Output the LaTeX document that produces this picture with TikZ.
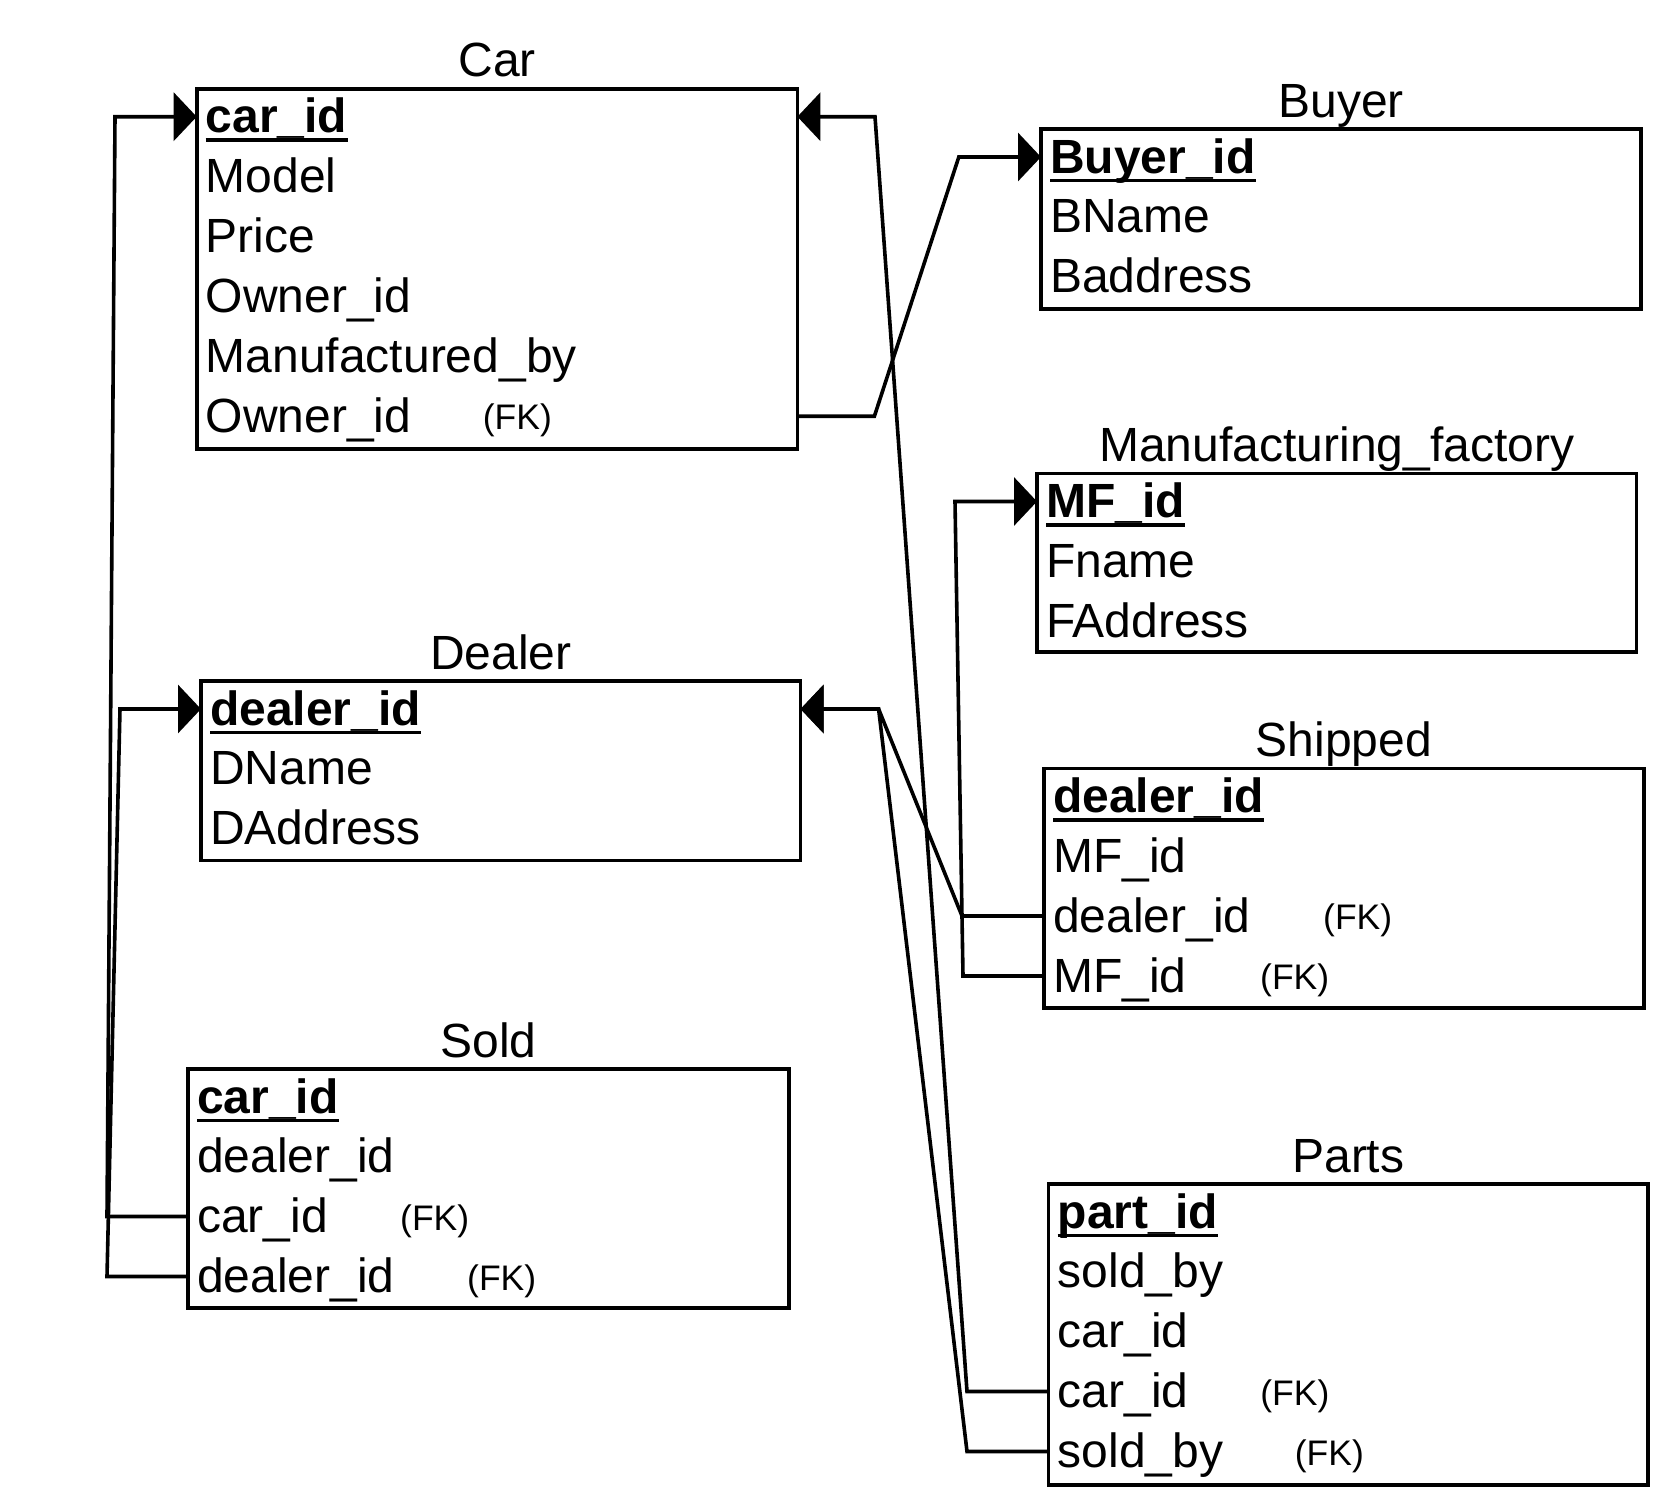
\documentclass[tikz,border=0pt]{standalone}
\usepackage{fontspec}
\setmainfont{Liberation Sans}
\usetikzlibrary{arrows.meta}
\begin{document}
\begin{tikzpicture}[x=1pt,y=-1pt,
  tbox/.style={draw, line width=3.6pt, inner sep=0pt, outer sep=0pt, anchor=north west},
  ttitle/.style={font=\fontsize{48}{48}\selectfont, inner sep=0pt, anchor=base},
  field/.style={font=\fontsize{48}{48}\selectfont, inner sep=0pt, text height=32pt, text depth=0pt, anchor=west},
  pkey/.style={field, font=\fontsize{48}{48}\selectfont\bfseries},
  fk/.style={field, font=\fontsize{35.5}{36}\selectfont, yshift=2.5pt},
  ul/.style={line width=3.5pt},
  link/.style={line width=3.6pt, line join=miter},
  head/.style={-{Triangle[length=23pt,width=48pt]}}
]
\useasboundingbox[fill=white] (0,0) rectangle (1676,1512);

% Car
\begin{scope}[shift={(196.7,88.7)}]
  \node[tbox, minimum width=600.7pt, minimum height=360.2pt] (car) at (0,0) {};
  \node[ttitle] (car-title) at (300.35,-12) {Car};
  \node[pkey]  (car-pk) at (9,28) {car\_id};
  \node[field] (car-r1) at (9,87.5) {Model};
  \node[field] (car-r2) at (9,147.5) {Price};
  \node[field] (car-r3) at (9,207.5) {Owner\_id};
  \node[field] (car-r4) at (9,267.5) {Manufactured\_by};
  \node[field] (car-r5) at (9,327.5) {Owner\_id};
  \node[fk]    (car-fk5) at (286,327.5) {(FK)};
\end{scope}

% Buyer
\begin{scope}[shift={(1041,129)}]
  \node[tbox, minimum width=600pt, minimum height=180pt] (buyer) at (0,0) {};
  \node[ttitle] (buyer-title) at (300,-12) {Buyer};
  \node[pkey]  (buyer-pk) at (9,28) {Buyer\_id};
  \node[field] (buyer-r1) at (9,87.5) {BName};
  \node[field] (buyer-r2) at (9,147.5) {Baddress};
\end{scope}

% Manufacturing factory
\begin{scope}[shift={(1037,473.5)}]
  \node[tbox, minimum width=599.5pt, minimum height=178.5pt] (mf) at (0,0) {};
  \node[ttitle] (mf-title) at (299.75,-12) {Manufacturing\_factory};
  \node[pkey]  (mf-pk) at (9,28) {MF\_id};
  \node[field] (mf-r1) at (9,87.5) {Fname};
  \node[field] (mf-r2) at (9,147.5) {FAddress};
\end{scope}

% Dealer
\begin{scope}[shift={(201,681)}]
  \node[tbox, minimum width=599.6pt, minimum height=179.5pt] (dealer) at (0,0) {};
  \node[ttitle] (dealer-title) at (299.8,-12) {Dealer};
  \node[pkey]  (dealer-pk) at (9,28) {dealer\_id};
  \node[field] (dealer-r1) at (9,87.5) {DName};
  \node[field] (dealer-r2) at (9,147.5) {DAddress};
\end{scope}

% Shipped
\begin{scope}[shift={(1044,768.5)}]
  \node[tbox, minimum width=600pt, minimum height=239.5pt] (ship) at (0,0) {};
  \node[ttitle] (ship-title) at (300,-12) {Shipped};
  \node[pkey]  (ship-pk) at (9,28) {dealer\_id};
  \node[field] (ship-r1) at (9,87.5) {MF\_id};
  \node[field] (ship-r2) at (9,147.5) {dealer\_id};
  \node[fk]    (ship-fk2) at (279,147.5) {(FK)};
  \node[field] (ship-r3) at (9,207.5) {MF\_id};
  \node[fk]    (ship-fk3) at (216,207.5) {(FK)};
\end{scope}

% Sold
\begin{scope}[shift={(188,1069)}]
  \node[tbox, minimum width=601pt, minimum height=239pt] (sold) at (0,0) {};
  \node[ttitle] (sold-title) at (300.5,-12) {Sold};
  \node[pkey]  (sold-pk) at (9,28) {car\_id};
  \node[field] (sold-r1) at (9,87.5) {dealer\_id};
  \node[field] (sold-r2) at (9,147.5) {car\_id};
  \node[fk]    (sold-fk2) at (212,147.5) {(FK)};
  \node[field] (sold-r3) at (9,207.5) {dealer\_id};
  \node[fk]    (sold-fk3) at (279,207.5) {(FK)};
\end{scope}

% Parts
\begin{scope}[shift={(1048.6,1184)}]
  \node[tbox, minimum width=599.4pt, minimum height=301pt] (parts) at (0,0) {};
  \node[ttitle] (parts-title) at (299.7,-12) {Parts};
  \node[pkey]  (parts-pk) at (9,28) {part\_id};
  \node[field] (parts-r1) at (9,87.5) {sold\_by};
  \node[field] (parts-r2) at (9,147.5) {car\_id};
  \node[field] (parts-r3) at (9,207.5) {car\_id};
  \node[fk]    (parts-fk3) at (211.5,207.5) {(FK)};
  \node[field] (parts-r4) at (9,267.5) {sold\_by};
  \node[fk]    (parts-fk4) at (246,267.5) {(FK)};
\end{scope}

% key underlines
\foreach \k in {car-pk,buyer-pk,mf-pk,dealer-pk,ship-pk,sold-pk,parts-pk}
  \draw[ul] ([yshift=-7.5pt]\k.base west) -- ([yshift=-7.5pt]\k.base east);

% foreign key links
\draw[link, head] (sold-r2.west -| sold.west) -- (107,1216.5) -- (115,116.7) -- (car-pk.west -| car.west);
\draw[link, head] (sold-r3.west -| sold.west) -- (107,1276.5) -- (120,709) -- (dealer-pk.west -| dealer.west);
\draw[link, head] (car-r5.west -| car.east) -- (874.4,416.2) -- (958.8,157) -- (buyer-pk.west -| buyer.west);
\draw[link, head] (parts-r3.west -| parts.west) -- (967,1391.5) -- (875,116.7) -- (car-pk.west -| car.east);
\draw[link, head] (parts-r4.west -| parts.west) -- (967,1451.5) -- (878.6,709) -- (dealer-pk.west -| dealer.east);
\draw[link, head] (ship-r2.west -| ship.west) -- (962,916) -- (878.6,709) -- (dealer-pk.west -| dealer.east);
\draw[link, head] (ship-r3.west -| ship.west) -- (963,976) -- (955,501.5) -- (mf-pk.west -| mf.west);
\end{tikzpicture}
\end{document}
